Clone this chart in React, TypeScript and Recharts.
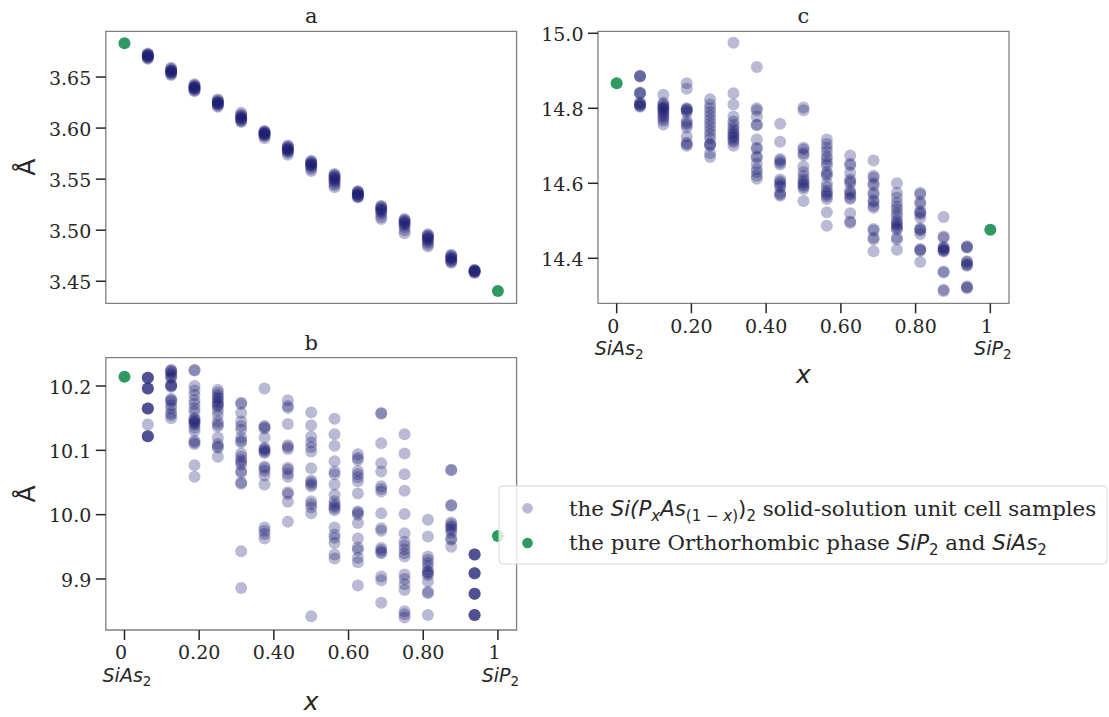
import React from 'react';
import { ScatterChart, Scatter, XAxis, YAxis, ReferenceArea } from 'recharts';

// ---------- data ----------
const SAMPLE_X = [0.0625, 0.125, 0.1875, 0.25, 0.3125, 0.375, 0.4375, 0.5, 0.5625, 0.625, 0.6875, 0.75, 0.8125, 0.875, 0.9375];
const PURE_X = [0, 1];

const X_TICKS = [0, 0.2, 0.4, 0.6, 0.8, 1];
const X_TICK_LABELS = ['0', '0.20', '0.40', '0.60', '0.80', '1'];
const X_END_NAMES = ['SiAs', 'SiP'];
const X_DOMAIN = [-0.05, 1.05];

const A_Y_TICKS = [3.45, 3.5, 3.55, 3.6, 3.65];
const B_Y_TICKS = [9.9, 10.0, 10.1, 10.2];
const C_Y_TICKS = [14.4, 14.6, 14.8, 15.0];

const A_DOMAIN = [3.4284, 3.6948];
const B_DOMAIN = [9.8207, 10.244];
const C_DOMAIN = [14.28, 15.0053];

const A_PURE = [3.683, 3.4405];
const B_PURE = [10.2145, 9.967];
const C_PURE = [14.867, 14.476];

const A_SAMPLES: number[][] = [
  [3.673, 3.672, 3.672, 3.671, 3.671, 3.670, 3.670, 3.669, 3.669, 3.668],
  [3.659, 3.658, 3.657, 3.656, 3.656, 3.655, 3.655, 3.654, 3.653, 3.652],
  [3.643, 3.642, 3.641, 3.640, 3.640, 3.639, 3.639, 3.638, 3.637, 3.636],
  [3.628, 3.627, 3.626, 3.625, 3.625, 3.624, 3.624, 3.623, 3.622, 3.621],
  [3.615, 3.613, 3.612, 3.611, 3.610, 3.610, 3.609, 3.608, 3.607, 3.606],
  [3.597, 3.597, 3.596, 3.595, 3.595, 3.594, 3.594, 3.593, 3.592, 3.590],
  [3.583, 3.582, 3.581, 3.580, 3.579, 3.579, 3.578, 3.577, 3.576, 3.574],
  [3.568, 3.567, 3.566, 3.565, 3.564, 3.564, 3.563, 3.562, 3.560, 3.558],
  [3.555, 3.554, 3.553, 3.552, 3.551, 3.550, 3.549, 3.548, 3.546, 3.544, 3.542],
  [3.538, 3.538, 3.537, 3.536, 3.535, 3.535, 3.534, 3.533, 3.533, 3.532],
  [3.524, 3.523, 3.522, 3.521, 3.520, 3.519, 3.518, 3.516, 3.513, 3.511],
  [3.511, 3.510, 3.509, 3.508, 3.507, 3.506, 3.505, 3.503, 3.500, 3.497],
  [3.496, 3.495, 3.494, 3.493, 3.492, 3.491, 3.490, 3.488, 3.486, 3.484],
  [3.476, 3.475, 3.474, 3.473, 3.472, 3.471, 3.470, 3.469, 3.468],
  [3.461, 3.461, 3.460, 3.460, 3.460, 3.459, 3.459, 3.458],
];

const B_SAMPLES: number[][] = [
  [10.213, 10.213, 10.213, 10.213, 10.196, 10.196, 10.196, 10.196, 10.165, 10.165, 10.165, 10.165, 10.140, 10.122, 10.122, 10.122, 10.122],
  [10.225, 10.224, 10.222, 10.220, 10.217, 10.214, 10.213, 10.202, 10.201, 10.200, 10.199, 10.180, 10.178, 10.176, 10.170, 10.165, 10.158, 10.155, 10.150],
  [10.225, 10.224, 10.200, 10.193, 10.186, 10.178, 10.172, 10.165, 10.160, 10.150, 10.148, 10.146, 10.144, 10.142, 10.140, 10.135, 10.130, 10.115, 10.112, 10.110, 10.077, 10.059],
  [10.194, 10.190, 10.186, 10.182, 10.180, 10.176, 10.173, 10.170, 10.168, 10.162, 10.155, 10.145, 10.140, 10.137, 10.120, 10.110, 10.106, 10.104, 10.090],
  [10.174, 10.172, 10.158, 10.145, 10.138, 10.132, 10.120, 10.115, 10.112, 10.095, 10.090, 10.085, 10.082, 10.078, 10.068, 10.065, 10.050, 10.048, 9.943, 9.886],
  [10.196, 10.138, 10.136, 10.134, 10.120, 10.104, 10.102, 10.100, 10.098, 10.096, 10.075, 10.072, 10.068, 10.061, 10.047, 9.980, 9.975, 9.970, 9.963],
  [10.178, 10.169, 10.166, 10.141, 10.108, 10.105, 10.102, 10.073, 10.070, 10.064, 10.059, 10.035, 10.032, 10.020, 9.989],
  [10.159, 10.139, 10.121, 10.112, 10.105, 10.098, 10.072, 10.053, 10.050, 10.047, 10.044, 10.021, 10.016, 10.011, 10.002, 9.842],
  [10.149, 10.125, 10.107, 10.083, 10.067, 10.063, 10.047, 10.031, 10.021, 10.016, 10.013, 10.010, 10.007, 9.980, 9.969, 9.964, 9.956, 9.938, 9.932],
  [10.094, 10.088, 10.085, 10.068, 10.063, 10.058, 10.052, 10.033, 10.005, 10.003, 10.000, 9.987, 9.963, 9.949, 9.945, 9.933, 9.926, 9.890],
  [10.158, 10.157, 10.111, 10.080, 10.067, 10.044, 10.040, 10.036, 10.002, 9.979, 9.975, 9.948, 9.945, 9.942, 9.940, 9.904, 9.898, 9.863],
  [10.125, 10.095, 10.063, 10.037, 10.001, 9.971, 9.958, 9.952, 9.946, 9.940, 9.935, 9.907, 9.900, 9.892, 9.883, 9.850, 9.845, 9.840],
  [9.992, 9.966, 9.935, 9.930, 9.925, 9.920, 9.913, 9.911, 9.909, 9.906, 9.896, 9.880, 9.878, 9.844],
  [10.070, 10.069, 10.015, 10.014, 9.988, 9.985, 9.982, 9.979, 9.976, 9.972, 9.963, 9.961, 9.950],
  [9.938, 9.938, 9.938, 9.938, 9.909, 9.909, 9.909, 9.909, 9.877, 9.877, 9.877, 9.877, 9.844, 9.844, 9.844, 9.844],
];

const C_SAMPLES: number[][] = [
  [14.886, 14.886, 14.885, 14.842, 14.841, 14.839, 14.815, 14.813, 14.811, 14.808, 14.806, 14.804],
  [14.836, 14.815, 14.810, 14.806, 14.802, 14.800, 14.797, 14.793, 14.788, 14.783, 14.778, 14.772, 14.766, 14.757],
  [14.867, 14.852, 14.800, 14.798, 14.796, 14.793, 14.789, 14.766, 14.761, 14.756, 14.749, 14.725, 14.708, 14.704, 14.700],
  [14.824, 14.810, 14.800, 14.790, 14.780, 14.770, 14.760, 14.750, 14.740, 14.730, 14.720, 14.706, 14.703, 14.700, 14.680, 14.670],
  [14.975, 14.840, 14.810, 14.778, 14.765, 14.756, 14.748, 14.741, 14.735, 14.730, 14.725, 14.720, 14.715, 14.710, 14.700],
  [14.910, 14.800, 14.795, 14.778, 14.757, 14.755, 14.717, 14.695, 14.692, 14.672, 14.668, 14.652, 14.638, 14.630, 14.620, 14.612],
  [14.759, 14.711, 14.665, 14.660, 14.655, 14.650, 14.610, 14.605, 14.600, 14.595, 14.590, 14.575, 14.570, 14.567],
  [14.802, 14.795, 14.695, 14.690, 14.680, 14.675, 14.645, 14.630, 14.620, 14.610, 14.605, 14.600, 14.595, 14.590, 14.585, 14.553],
  [14.717, 14.705, 14.695, 14.685, 14.672, 14.665, 14.655, 14.648, 14.630, 14.625, 14.620, 14.600, 14.590, 14.580, 14.575, 14.570, 14.565, 14.558, 14.523, 14.487],
  [14.674, 14.652, 14.648, 14.628, 14.610, 14.605, 14.600, 14.580, 14.575, 14.570, 14.562, 14.558, 14.520, 14.498, 14.495],
  [14.661, 14.620, 14.615, 14.600, 14.595, 14.575, 14.570, 14.555, 14.550, 14.540, 14.535, 14.478, 14.474, 14.455, 14.450, 14.419],
  [14.600, 14.575, 14.562, 14.548, 14.538, 14.530, 14.520, 14.512, 14.500, 14.495, 14.490, 14.485, 14.480, 14.477, 14.455, 14.450, 14.423],
  [14.575, 14.570, 14.550, 14.545, 14.525, 14.522, 14.518, 14.508, 14.480, 14.477, 14.474, 14.465, 14.425, 14.422, 14.420, 14.390],
  [14.510, 14.458, 14.455, 14.430, 14.428, 14.425, 14.422, 14.420, 14.418, 14.365, 14.362, 14.316, 14.313],
  [14.432, 14.430, 14.428, 14.392, 14.390, 14.385, 14.382, 14.380, 14.325, 14.323, 14.320],
];

// ---------- styles ----------
const NAVY = '#191970';
const GREEN = '#2e9a62';
const INK = '#262626';
const SPINE = '#808080';
const SERIF = '"DejaVu Serif", serif';
const SANS = '"DejaVu Sans", sans-serif';

const toPoints = (cols: number[][]) =>
  cols.flatMap((vals, i) => vals.map((v) => ({ x: SAMPLE_X[i], y: v })));

const sampleShape = (props: any) => (
  <circle cx={props.cx} cy={props.cy} r={6} fill={NAVY} fillOpacity={0.3} />
);
const pureShape = (props: any) => (
  <circle cx={props.cx} cy={props.cy} r={6} fill={GREEN} />
);

function XTick(props: any) {
  const { x, y, payload } = props;
  const i = X_TICKS.indexOf(payload.value);
  const name = i === 0 ? X_END_NAMES[0] : i === X_TICKS.length - 1 ? X_END_NAMES[1] : null;
  return (
    <g>
      <text x={x + (name ? -3.5 : 0)} y={y + 17.3} textAnchor="middle" fontFamily={SERIF} fontSize={19} fill={INK}>
        {X_TICK_LABELS[i]}
      </text>
      {name && (
        <text x={x + 2.5} y={y + 39.7} textAnchor="middle" fontFamily={SANS} fontStyle="italic" fontSize={19} fill={INK}>
          {name}
          <tspan fontStyle="normal" fontSize={13.5} dy={4}>2</tspan>
        </text>
      )}
    </g>
  );
}

function YTick(props: any) {
  const { x, y, payload, decimals } = props;
  return (
    <text x={x} y={y + 7.8} textAnchor="end" fontFamily={SERIF} fontSize={19} fill={INK}>
      {Number(payload.value).toFixed(decimals)}
    </text>
  );
}

const YLabel = (props: any) => {
  const vb = props.viewBox;
  const x = vb.x + vb.width - 70.3;
  const y = vb.y + vb.height / 2;
  return (
    <text x={x} y={y} transform={`rotate(-90 ${x} ${y})`} textAnchor="middle" fontFamily={SANS} fontSize={25} fill={INK}>
      Å
    </text>
  );
};

const XLabel = (props: any) => {
  const vb = props.viewBox;
  return (
    <text x={vb.x + vb.width / 2} y={vb.y + 80} textAnchor="middle" fontFamily={SANS} fontStyle="italic" fontSize={25} fill={INK}>
      x
    </text>
  );
};

const makeTitle = (t: string) => (props: any) => {
  const vb = props.viewBox;
  return (
    <text x={vb.x + vb.width / 2} y={vb.y - 8} textAnchor="middle" fontFamily={SERIF} fontSize={21} fill={INK}>
      {t}
    </text>
  );
};

type PanelProps = {
  title: string;
  samples: number[][];
  pure: number[];
  yDomain: number[];
  yTicks: number[];
  decimals: number;
  xLabels: boolean;
  yLabel: boolean;
  width: number;
  height: number;
  top: number;
  right: number;
  yAxisWidth: number;
  xAxisHeight: number;
};

function Panel(p: PanelProps) {
  const samplePts = toPoints(p.samples);
  const purePts = PURE_X.map((x, i) => ({ x, y: p.pure[i] }));
  return (
    <ScatterChart width={p.width} height={p.height} margin={{ top: p.top, right: p.right, bottom: 0, left: 0 }}>
      <XAxis
        type="number"
        dataKey="x"
        domain={X_DOMAIN}
        ticks={X_TICKS}
        interval={0}
        allowDataOverflow
        height={p.xAxisHeight}
        axisLine={false}
        tickSize={10}
        tickMargin={2}
        tickLine={{ stroke: INK, strokeWidth: 1.5 }}
        tick={p.xLabels ? <XTick /> : false}
        label={p.xLabels ? XLabel : undefined}
      />
      <YAxis
        type="number"
        dataKey="y"
        domain={p.yDomain}
        ticks={p.yTicks}
        interval={0}
        allowDataOverflow
        width={p.yAxisWidth}
        axisLine={false}
        tickSize={10}
        tickMargin={4.5}
        tickLine={{ stroke: INK, strokeWidth: 1.5 }}
        tick={<YTick decimals={p.decimals} />}
        label={p.yLabel ? YLabel : undefined}
      />
      <Scatter data={samplePts} shape={sampleShape} isAnimationActive={false} />
      <Scatter data={purePts} shape={pureShape} isAnimationActive={false} />
      <ReferenceArea
        x1={X_DOMAIN[0]}
        x2={X_DOMAIN[1]}
        y1={p.yDomain[0]}
        y2={p.yDomain[1]}
        fill="none"
        fillOpacity={0}
        stroke={SPINE}
        strokeWidth={1.3}
        ifOverflow="visible"
        label={makeTitle(p.title)}
      />
    </ScatterChart>
  );
}

function LegendBox() {
  const sub = 5.5;
  const fs = 21.3;
  const ss = 15;
  return (
    <svg width={610} height={80} style={{ position: 'absolute', left: 498, top: 485 }}>
      <rect x={1} y={1} width={608} height={78} rx={4} ry={4} fill="#ffffff" fillOpacity={0.8} stroke="#d6d6d6" strokeWidth={1} />
      <circle cx={29.5} cy={23.3} r={5.3} fill={NAVY} fillOpacity={0.3} />
      <circle cx={29.5} cy={58} r={5.3} fill={GREEN} />
      <text x={71} y={30.5} fontFamily={SERIF} fontSize={fs} fill={INK}>
        <tspan>the </tspan>
        <tspan fontFamily={SANS} fontStyle="italic">Si(P</tspan>
        <tspan fontFamily={SANS} fontStyle="italic" fontSize={ss} dy={sub}>x</tspan>
        <tspan fontFamily={SANS} fontStyle="italic" dy={-sub}>As</tspan>
        <tspan fontFamily={SANS} fontSize={ss} dy={sub}>(1 − </tspan>
        <tspan fontFamily={SANS} fontStyle="italic" fontSize={ss}>x</tspan>
        <tspan fontFamily={SANS} fontSize={ss}>)</tspan>
        <tspan fontFamily={SANS} dy={-sub}>)</tspan>
        <tspan fontFamily={SANS} fontSize={ss} dy={sub}>2</tspan>
        <tspan dy={-sub}> solid-solution unit cell samples</tspan>
      </text>
      <text x={71} y={64.5} fontFamily={SERIF} fontSize={fs} fill={INK}>
        <tspan>the pure Orthorhombic phase </tspan>
        <tspan fontFamily={SANS} fontStyle="italic">SiP</tspan>
        <tspan fontFamily={SANS} fontSize={ss} dy={sub}>2</tspan>
        <tspan dy={-sub}> and </tspan>
        <tspan fontFamily={SANS} fontStyle="italic">SiAs</tspan>
        <tspan fontFamily={SANS} fontSize={ss} dy={sub}>2</tspan>
      </text>
    </svg>
  );
}

export default function App() {
  return (
    <div style={{ position: 'absolute', left: 0, top: 0, width: 1109, height: 717, background: '#ffffff', overflow: 'hidden' }}>
      <div style={{ position: 'absolute', left: 0, top: 0 }}>
        <Panel title="a" samples={A_SAMPLES} pure={A_PURE} yDomain={A_DOMAIN} yTicks={A_Y_TICKS} decimals={2}
          xLabels={false} yLabel={true} width={530} height={320} top={31.3} right={13.4} yAxisWidth={105.8} xAxisHeight={16.7} />
      </div>
      <div style={{ position: 'absolute', left: 530, top: 0 }}>
        <Panel title="c" samples={C_SAMPLES} pure={C_PURE} yDomain={C_DOMAIN} yTicks={C_Y_TICKS} decimals={1}
          xLabels={true} yLabel={false} width={579} height={400} top={31.3} right={100} yAxisWidth={68} xAxisHeight={96.7} />
      </div>
      <div style={{ position: 'absolute', left: 0, top: 320 }}>
        <Panel title="b" samples={B_SAMPLES} pure={B_PURE} yDomain={B_DOMAIN} yTicks={B_Y_TICKS} decimals={1}
          xLabels={true} yLabel={true} width={530} height={397} top={37.7} right={13.4} yAxisWidth={105.8} xAxisHeight={87} />
      </div>
      <LegendBox />
    </div>
  );
}
